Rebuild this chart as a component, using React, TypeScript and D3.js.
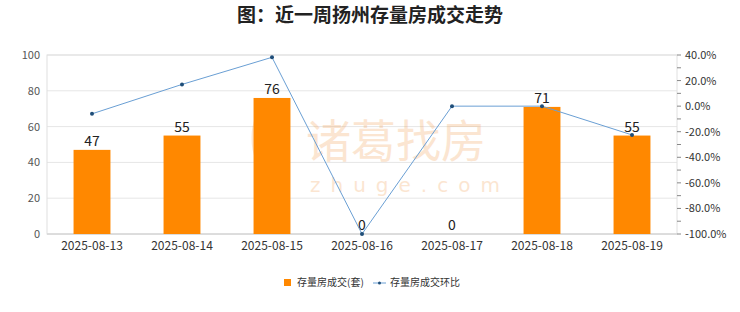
import React from "react";
import * as d3 from "d3";

const categories = ["2025-08-13", "2025-08-14", "2025-08-15", "2025-08-16", "2025-08-17", "2025-08-18", "2025-08-19"];
const volumes = [47, 55, 76, 0, 0, 71, 55];
const ratios = [-6.0, 17.0, 38.2, -100, 0, 0, -22.5];
const leftTicks = [0, 20, 40, 60, 80, 100];
const rightTicks = [40, 20, 0, -20, -40, -60, -80, -100];
const rightMinor = [30, 10, -10, -30, -50, -70, -90];

const W = 740, H = 312;
const m = { left: 47, right: 677, top: 55, bottom: 234 };

export default function App() {
  const x = d3.scaleBand<string>().domain(categories).range([m.left, m.right]).paddingInner(0.59).paddingOuter(0.295);
  const yL = d3.scaleLinear().domain([0, 100]).range([m.bottom, m.top]);
  const yR = d3.scaleLinear().domain([-100, 40]).range([m.bottom, m.top]);
  const cx = (c: string) => (x(c) as number) + x.bandwidth() / 2;
  const line = d3.line<number>().x((_, i) => cx(categories[i])).y((d) => yR(d));
  const font = "'Noto Sans CJK SC', 'Noto Sans', sans-serif";
  return (
    <svg width={W} height={H} style={{ position: "absolute", left: 0, top: 0, background: "#fff" }} fontFamily={font}>
      <rect x={0} y={0} width={W} height={H} fill="#fff" />
      <text x={370} y={22} textAnchor="middle" fontSize={19} fontWeight="bold" fill="#222">图：近一周扬州存量房成交走势</text>
      {leftTicks.map((t) => (
        <g key={t}>
          <line x1={m.left} x2={m.right} y1={yL(t)} y2={yL(t)} stroke="#e6e6e6" />
          <text x={m.left - 7} y={yL(t) + 4} textAnchor="end" fontSize={11} fill="#555">{t}</text>
        </g>
      ))}
      <rect x={m.left} y={m.top} width={m.right - m.left} height={m.bottom - m.top} fill="none" stroke="#e0e0e0" />
      <line x1={m.left} x2={m.right} y1={m.bottom} y2={m.bottom} stroke="#d0d0d0" />
      {/* watermark */}
      <g opacity={0.25} fill="#f29a4a">
        <ellipse cx={268} cy={138} rx={13} ry={28} fill="none" stroke="#f29a4a" strokeWidth={7} />
        <text x={306} y={158} fontSize={45} fontFamily={font}>诸葛找房</text>
        <text x={310} y={192} fontSize={20} letterSpacing={10} fontFamily="'DejaVu Sans', sans-serif">zhuge.com</text>
      </g>
      {categories.map((c, i) => (
        <g key={c}>
          <rect x={x(c)} y={yL(volumes[i])} width={x.bandwidth()} height={m.bottom - yL(volumes[i])} fill="#FF8800" />
          <text x={cx(c)} y={yL(volumes[i]) - 4} textAnchor="middle" fontSize={14} fill="#222">{volumes[i]}</text>
          <text x={cx(c)} y={250} textAnchor="middle" fontSize={12} fill="#333">{c}</text>
        </g>
      ))}
      <path d={line(ratios) || ""} fill="none" stroke="#6a9fd4" strokeWidth={1} />
      {ratios.map((r, i) => (
        <circle key={i} cx={cx(categories[i])} cy={yR(r)} r={2} fill="#1f4e79" />
      ))}
      {rightTicks.map((t) => (
        <g key={t}>
          <line x1={m.right} x2={m.right + 4} y1={yR(t)} y2={yR(t)} stroke="#888" />
          <text x={m.right + 8} y={yR(t) + 4} fontSize={11} fill="#333">{t.toFixed(1) + "%"}</text>
        </g>
      ))}
      {rightMinor.map((t) => (
        <line key={t} x1={m.right} x2={m.right + 4} y1={yR(t)} y2={yR(t)} stroke="#888" />
      ))}
      <g>
        <rect x={284} y={279} width={7} height={7} fill="#FF8800" />
        <text x={297} y={286} fontSize={10} fill="#333">存量房成交(套)</text>
        <line x1={373} x2={386} y1={283} y2={283} stroke="#6a9fd4" />
        <circle cx={379.5} cy={283} r={1.5} fill="#1f4e79" />
        <text x={390} y={286} fontSize={10} fill="#333">存量房成交环比</text>
      </g>
    </svg>
  );
}
